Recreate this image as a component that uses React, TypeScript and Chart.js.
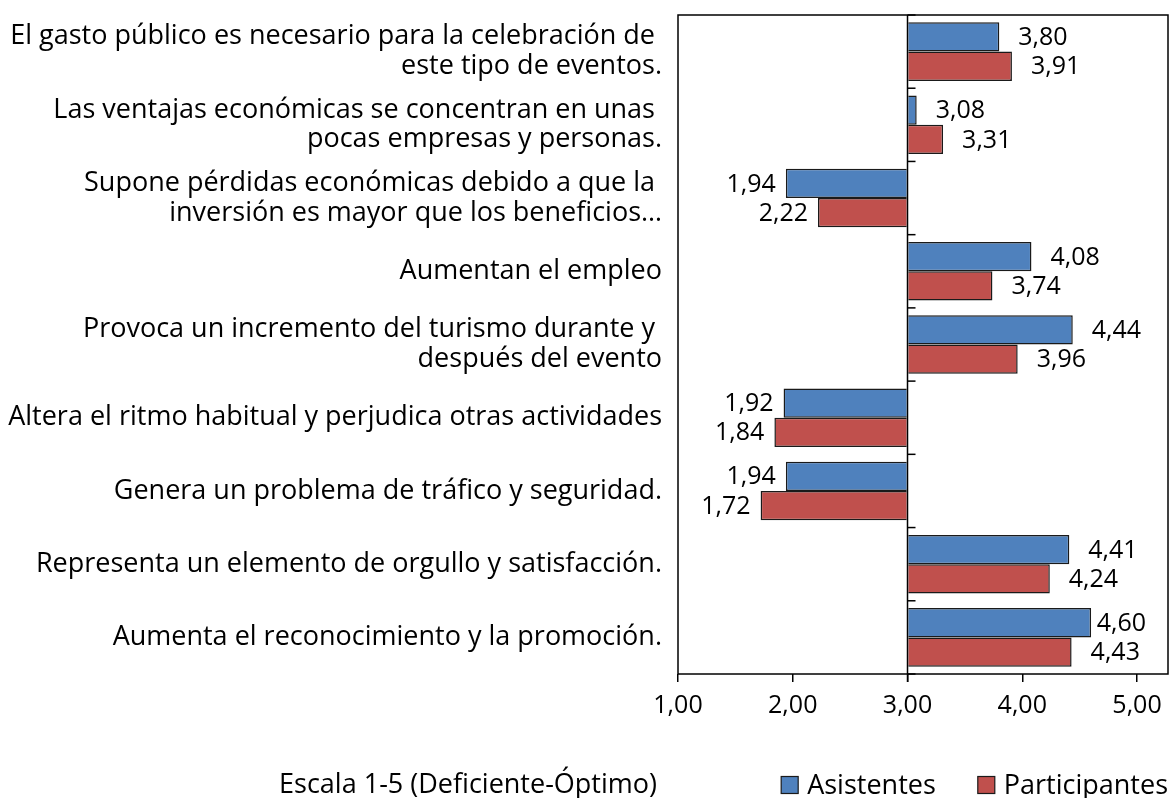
import React, { useEffect, useRef } from 'react';
import { Chart, registerables } from 'chart.js';

Chart.register(...registerables);

const CATEGORIES: string[][] = [
  ['El gasto público es necesario para la celebración de ', 'este tipo de eventos.'],
  ['Las ventajas económicas se concentran en unas ', 'pocas empresas y personas.'],
  ['Supone pérdidas económicas debido a que la ', 'inversión es mayor que los beneficios…'],
  ['Aumentan el empleo'],
  ['Provoca un incremento del turismo durante y ', 'después del evento'],
  ['Altera el ritmo habitual y perjudica otras actividades'],
  ['Genera un problema de tráfico y seguridad.'],
  ['Representa un elemento de orgullo y satisfacción.'],
  ['Aumenta el reconocimiento y la promoción.'],
];
const ASISTENTES = [3.8, 3.08, 1.94, 4.08, 4.44, 1.92, 1.94, 4.41, 4.6];
const PARTICIPANTES = [3.91, 3.31, 2.22, 3.74, 3.96, 1.84, 1.72, 4.24, 4.43];
const SERIES_NAMES = ['Asistentes', 'Participantes'];
const SERIES_COLORS = ['#4F81BD', '#C0504D'];
const X_TICKS = [1, 2, 3, 4, 5];
const X_MIN = 1;
const X_MAX = 5.27;
const BASE_VALUE = 3;
const AXIS_TITLE = 'Escala 1-5 (Deficiente-Óptimo)';

const FONT = '"Open Sans", "Noto Sans", sans-serif';
const INK = '#000000';
const fmt = (v: number) => v.toFixed(2).replace('.', ',');

const decorPlugin = {
  id: 'decor',
  afterDatasetsDraw(chart: any) {
    const { ctx, chartArea: ca, scales } = chart;
    const x = scales.x;
    const y = scales.y;
    ctx.save();
    // plot box
    ctx.strokeStyle = INK;
    ctx.lineWidth = 1.5;
    ctx.strokeRect(ca.left, ca.top, ca.right - ca.left, ca.bottom - ca.top);
    // category axis crossing at base value
    const bx = x.getPixelForValue(BASE_VALUE);
    ctx.beginPath();
    ctx.moveTo(bx, ca.top);
    ctx.lineTo(bx, ca.bottom + 8);
    ctx.stroke();
    // category tick marks
    for (let i = 0; i <= CATEGORIES.length; i++) {
      const yy = y.getPixelForValue(i - 0.5);
      ctx.beginPath();
      ctx.moveTo(bx, yy);
      ctx.lineTo(bx + 8, yy);
      ctx.stroke();
    }
    // data labels
    ctx.font = `25px ${FONT}`;
    ctx.fillStyle = INK;
    ctx.textBaseline = 'middle';
    chart.data.datasets.forEach((ds: any, di: number) => {
      const meta = chart.getDatasetMeta(di);
      meta.data.forEach((bar: any, i: number) => {
        const v = ds.data[i] as number;
        const t = fmt(v);
        const w = ctx.measureText(t).width;
        const { x: px, y: py } = bar.getProps(['x', 'y'], true);
        if (v >= BASE_VALUE) {
          let tx = px + 19;
          if (tx + w > ca.right - 22) tx = ca.right - 22 - w;
          ctx.textAlign = 'left';
          ctx.fillText(t, tx, py + 1);
        } else {
          ctx.textAlign = 'right';
          ctx.fillText(t, px - 10, py + 1);
        }
      });
    });
    ctx.restore();
  },
  afterDraw(chart: any) {
    const { ctx, chartArea: ca } = chart;
    const cy = chart.height - 13;
    ctx.save();
    ctx.font = `27px ${FONT}`;
    ctx.fillStyle = INK;
    ctx.textBaseline = 'middle';
    // axis description
    ctx.textAlign = 'right';
    ctx.fillText(AXIS_TITLE, ca.left - 21, cy);
    // legend (right aligned to plot edge)
    const box = 17;
    const gapBoxText = 9;
    const gapItems = 42;
    let right = ca.right;
    const items: { x: number; name: string; color: string }[] = [];
    for (let i = SERIES_NAMES.length - 1; i >= 0; i--) {
      const w = ctx.measureText(SERIES_NAMES[i]).width;
      const tx = right - w;
      const bxl = tx - gapBoxText - box;
      items.push({ x: bxl, name: SERIES_NAMES[i], color: SERIES_COLORS[i] });
      right = bxl - gapItems;
    }
    ctx.textAlign = 'left';
    items.forEach((it) => {
      ctx.fillStyle = it.color;
      ctx.fillRect(it.x, cy - box / 2, box, box);
      ctx.strokeStyle = '#1a1a1a';
      ctx.lineWidth = 1.2;
      ctx.strokeRect(it.x, cy - box / 2, box, box);
      ctx.fillStyle = INK;
      ctx.fillText(it.name, it.x + box + gapBoxText, cy + 1);
    });
    ctx.restore();
  },
};

export default function App() {
  const ref = useRef<HTMLCanvasElement | null>(null);
  useEffect(() => {
    if (!ref.current) return;
    const chart = new Chart(ref.current, {
      type: 'bar',
      data: {
        labels: CATEGORIES,
        datasets: [
          {
            label: SERIES_NAMES[0],
            data: ASISTENTES,
            base: BASE_VALUE,
            backgroundColor: SERIES_COLORS[0],
            borderColor: '#1a1a1a',
            borderWidth: 1.5,
          } as any,
          {
            label: SERIES_NAMES[1],
            data: PARTICIPANTES,
            base: BASE_VALUE,
            backgroundColor: SERIES_COLORS[1],
            borderColor: '#1a1a1a',
            borderWidth: 1.5,
          } as any,
        ],
      },
      options: {
        indexAxis: 'y',
        animation: false,
        responsive: true,
        maintainAspectRatio: false,
        layout: { padding: { top: 15, right: 7, bottom: 74, left: 0 } },
        datasets: { bar: { categoryPercentage: 0.8, barPercentage: 1.0 } },
        plugins: { legend: { display: false }, tooltip: { enabled: false } },
        scales: {
          x: {
            type: 'linear',
            min: X_MIN,
            max: X_MAX,
            afterBuildTicks: (scale: any) => {
              scale.ticks = X_TICKS.map((value) => ({ value }));
            },
            afterFit: (scale: any) => {
              scale.height = 50;
              scale.paddingLeft = 0;
              scale.paddingRight = 0;
            },
            border: { display: false },
            grid: {
              display: true,
              drawOnChartArea: false,
              drawTicks: true,
              tickLength: 8,
              color: INK,
              lineWidth: 1.5,
            },
            ticks: {
              color: INK,
              padding: 9,
              maxRotation: 0,
              font: { family: FONT, size: 25 },
              callback: (v: any) => fmt(Number(v)),
            },
          },
          y: {
            type: 'category',
            afterFit: (scale: any) => {
              scale.width = 678;
              scale.paddingTop = 0;
              scale.paddingBottom = 0;
            },
            border: { display: false },
            grid: { display: false, drawTicks: false },
            ticks: {
              color: INK,
              padding: 16,
              autoSkip: false,
              font: { family: FONT, size: 27, lineHeight: 1.1 },
            },
          },
        },
      },
      plugins: [decorPlugin],
    });
    return () => chart.destroy();
  }, []);
  return (
    <div style={{ position: 'absolute', left: 0, top: 0, width: 1175, height: 798, background: '#fff' }}>
      <canvas ref={ref} />
    </div>
  );
}
